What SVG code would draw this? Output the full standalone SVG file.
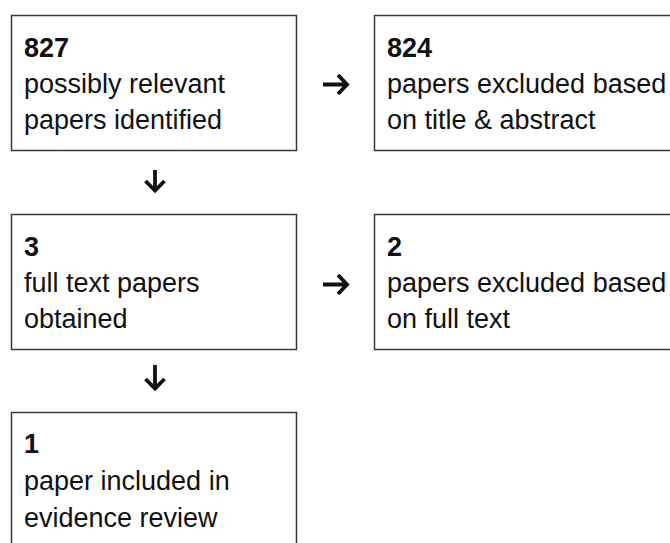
<svg xmlns="http://www.w3.org/2000/svg" width="670" height="543" viewBox="0 0 670 543">
<style>
.box{fill:#fff;stroke:#3a3a3a;stroke-width:1.5}
.t{font-family:"Liberation Sans",Arial,sans-serif;font-size:27px;fill:#111}
.n{font-weight:bold}
.arr{fill:none;stroke:#111;stroke-width:3.8;stroke-linecap:butt;stroke-linejoin:miter}
</style>
<rect width="670" height="543" fill="#fff"/>
<g id="n1">
<rect class="box" x="11.5" y="15.5" width="285" height="135"/>
<text class="t n" x="24" y="57">827</text>
<text class="t" x="24" y="93">possibly relevant</text>
<text class="t" x="24" y="129">papers identified</text>
</g>
<g id="n2">
<rect class="box" x="374.5" y="15.5" width="310" height="135"/>
<text class="t n" x="387" y="57">824</text>
<text class="t" x="387" y="93">papers excluded based</text>
<text class="t" x="387" y="129">on title &amp; abstract</text>
</g>
<g id="n3">
<rect class="box" x="11.5" y="214.5" width="285" height="135"/>
<text class="t n" x="24" y="256">3</text>
<text class="t" x="24" y="292">full text papers</text>
<text class="t" x="24" y="328">obtained</text>
</g>
<g id="n4">
<rect class="box" x="374.5" y="214.5" width="310" height="135"/>
<text class="t n" x="387" y="256">2</text>
<text class="t" x="387" y="292">papers excluded based</text>
<text class="t" x="387" y="328">on full text</text>
</g>
<g id="n5">
<rect class="box" x="11.5" y="412.5" width="285" height="140"/>
<text class="t n" x="24" y="453">1</text>
<text class="t" x="24" y="490">paper included in</text>
<text class="t" x="24" y="527">evidence review</text>
</g>
<g id="connectors">
<path class="arr" d="M323 84.5H347M338 75L347 84.5L338 94"/>
<path class="arr" d="M323 284.5H347M338 275L347 284.5L338 294"/>
<path class="arr" d="M155 170V190M145.5 181L155 190.5L164.5 181"/>
<path class="arr" d="M155 365V388M145.5 379L155 388.5L164.5 379"/>
</g>
</svg>
